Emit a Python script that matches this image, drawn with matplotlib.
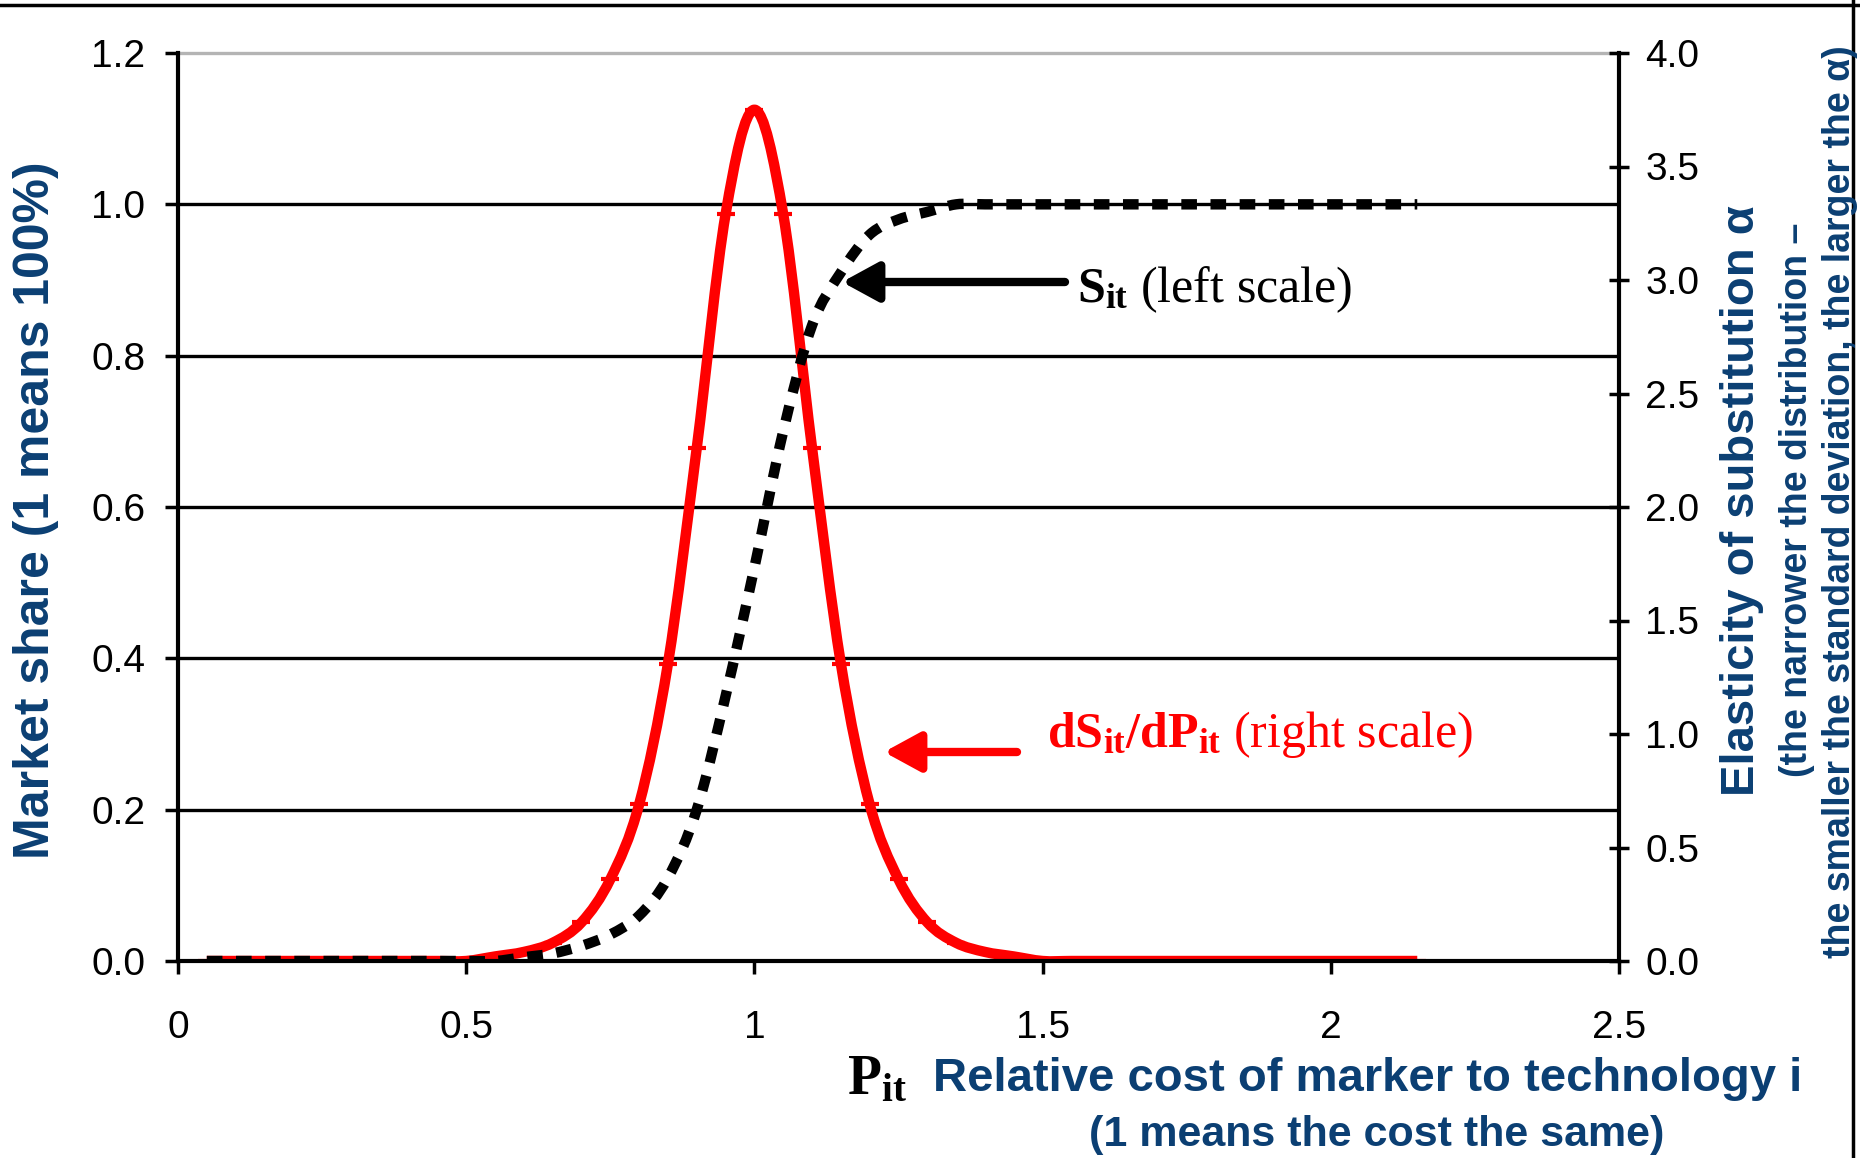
import matplotlib
matplotlib.use("Agg")
import matplotlib.pyplot as plt
from matplotlib.lines import Line2D
from matplotlib.path import Path
from matplotlib.patches import PathPatch
from matplotlib.transforms import blended_transform_factory

plt.rcParams['font.family'] = ['Liberation Sans', 'DejaVu Sans']
plt.rcParams['mathtext.fontset'] = 'custom'
plt.rcParams['mathtext.rm'] = 'Liberation Serif'
plt.rcParams['mathtext.it'] = 'Liberation Serif:italic'
plt.rcParams['mathtext.bf'] = 'Liberation Serif:bold'

# relative cost P_it
cost = [0.05, 0.10, 0.15, 0.20, 0.25, 0.30, 0.35, 0.40, 0.45, 0.50,
        0.55, 0.60, 0.65, 0.70, 0.75, 0.80, 0.85, 0.90, 0.95, 1.00,
        1.05, 1.10, 1.15, 1.20, 1.25, 1.30, 1.35, 1.40, 1.45, 1.50,
        1.55, 1.60, 1.65, 1.70, 1.75, 1.80, 1.85, 1.90, 1.95, 2.00,
        2.05, 2.10, 2.15]

# market share S_it (left scale)
share = [0.0, 0.0, 0.0, 0.0, 0.0, 0.0, 0.0, 0.0, 0.0, 0.0,
         0.0, 0.005, 0.01, 0.02, 0.035, 0.06, 0.11, 0.20, 0.35, 0.52,
         0.70, 0.84, 0.91, 0.96, 0.98, 0.99, 1.0, 1.0, 1.0, 1.0,
         1.0, 1.0, 1.0, 1.0, 1.0, 1.0, 1.0, 1.0, 1.0, 1.0,
         1.0, 1.0, 1.0]

# dS_it/dP_it (right scale)
deriv = [0.0, 0.0, 0.0, 0.0, 0.0, 0.0, 0.0, 0.0, 0.0, 0.0,
         0.02, 0.04, 0.08, 0.17, 0.36, 0.69, 1.31, 2.26, 3.29, 3.75,
         3.29, 2.26, 1.31, 0.69, 0.36, 0.17, 0.08, 0.04, 0.02, 0.0,
         0.0, 0.0, 0.0, 0.0, 0.0, 0.0, 0.0, 0.0, 0.0, 0.0,
         0.0, 0.0, 0.0]

x_ticks = [0, 0.5, 1, 1.5, 2, 2.5]
x_labels = ['0', '0.5', '1', '1.5', '2', '2.5']
left_ticks = [0.0, 0.2, 0.4, 0.6, 0.8, 1.0, 1.2]
right_ticks = [0.0, 0.5, 1.0, 1.5, 2.0, 2.5, 3.0, 3.5, 4.0]
grid_levels = [0.2, 0.4, 0.6, 0.8, 1.0]

blue = '#0B3F73'
W, H = 1860, 1158


def smooth_path(xs, ys):
    """Excel-like smoothed line: Catmull-Rom segments as cubic Bezier."""
    pts = list(zip(xs, ys))
    verts = [pts[0]]
    codes = [Path.MOVETO]
    n = len(pts)
    for i in range(n - 1):
        p0 = pts[i - 1] if i > 0 else pts[i]
        p1 = pts[i]
        p2 = pts[i + 1]
        p3 = pts[i + 2] if i + 2 < n else pts[i + 1]
        c1 = (p1[0] + (p2[0] - p0[0]) / 6, p1[1] + (p2[1] - p0[1]) / 6)
        c2 = (p2[0] - (p3[0] - p1[0]) / 6, p2[1] - (p3[1] - p1[1]) / 6)
        verts += [c1, c2, p2]
        codes += [Path.CURVE4] * 3
    return Path(verts, codes)


fig = plt.figure(figsize=(18.6, 11.58), dpi=100)
fig.patch.set_facecolor('white')
ax = fig.add_axes([178 / W, 1 - 961 / H, 1441 / W, 908 / H])
ax2 = ax.twinx()
ax.set_zorder(ax2.get_zorder() + 1)
ax.patch.set_visible(False)

ax.set_xlim(0, 2.5)
ax.set_ylim(0, 1.2)
ax2.set_ylim(0, 4.0)

# grid lines drawn underneath the red curve, on the left scale
trans = blended_transform_factory(ax2.transAxes, ax.transData)
for g in grid_levels:
    ax2.plot([0, 1], [g, g], transform=trans, color='black', lw=2.4, zorder=0)
ax2.plot([0, 1], [1.2, 1.2], transform=trans, color='#b4b4b4', lw=2.4, zorder=0, clip_on=False)

ax2.add_patch(PathPatch(smooth_path(cost, deriv), fill=False, edgecolor='red',
                        lw=7.5, joinstyle='round', capstyle='butt', zorder=3))
ax2.plot(cost, deriv, ls='none', color='red', marker='_', markersize=13,
         markeredgewidth=3, zorder=3)
ax.add_patch(PathPatch(smooth_path(cost, share), fill=False, edgecolor='black',
                       lw=7.5, linestyle=(0, (1.5, 1.3)), capstyle='butt', zorder=3))

for s in ['top', 'right']:
    ax.spines[s].set_visible(False)
for s in ['top', 'left', 'bottom']:
    ax2.spines[s].set_visible(False)
ax.spines['left'].set_linewidth(3)
ax.spines['bottom'].set_linewidth(3)
ax2.spines['right'].set_linewidth(3)

ax.set_xticks(x_ticks)
ax.set_xticklabels(x_labels)
ax.set_yticks(left_ticks)
ax.set_yticklabels(['%.1f' % v for v in left_ticks])
ax2.set_yticks(right_ticks)
ax2.set_yticklabels(['%.1f' % v for v in right_ticks])

ax.tick_params(axis='x', direction='out', length=9.5, width=2.5, pad=26, labelsize=28)
ax.tick_params(axis='y', direction='out', length=9.5, width=2.5, pad=14, labelsize=28)
ax2.tick_params(axis='y', direction='inout', length=14, width=2.5, pad=12, labelsize=28)

# axis titles
fig.text(36 / W, 1 - 510 / H, 'Market share (1 means 100%)', rotation=90,
         ha='center', va='center', color=blue, fontsize=36, fontweight='bold')
fig.text(1742 / W, 1 - 501 / H, 'Elasticity of substitution α', rotation=90,
         ha='center', va='center', color=blue, fontsize=34, fontweight='bold')
fig.text(1797 / W, 1 - 500 / H, '(the narrower the distribution –', rotation=90,
         ha='center', va='center', color=blue, fontsize=27, fontweight='bold')
fig.text(1840 / W, 1 - 502 / H, 'the smaller the standard deviation, the larger the α)',
         rotation=90, ha='center', va='center', color=blue, fontsize=27, fontweight='bold')

fig.text(877 / W, 1 - 1080 / H, r'$\mathbf{P_{it}}$', ha='center', va='center',
         color='black', fontsize=40)
fig.text(933 / W, 1 - 1079 / H, 'Relative cost of marker to technology i',
         ha='left', va='center', color=blue, fontsize=34, fontweight='bold')
fig.text(1377 / W, 1 - 1135 / H, '(1 means the cost the same)',
         ha='center', va='center', color=blue, fontsize=31, fontweight='bold')

# curve annotations
ax.annotate('', xy=(842 / W, 1 - 282 / H), xytext=(1065 / W, 1 - 282 / H),
            xycoords='figure fraction', textcoords='figure fraction',
            arrowprops=dict(arrowstyle='-|>,head_length=1.1,head_width=0.6',
                            mutation_scale=20, lw=6, color='black',
                            shrinkA=0, shrinkB=0))
fig.text(1077 / W, 1 - 290 / H, r'$\mathbf{S_{it}}$ (left scale)', ha='left', va='center',
         color='black', fontsize=36, family='Liberation Serif')

ax.annotate('', xy=(884 / W, 1 - 752 / H), xytext=(1017 / W, 1 - 752 / H),
            xycoords='figure fraction', textcoords='figure fraction',
            arrowprops=dict(arrowstyle='-|>,head_length=1.1,head_width=0.6',
                            mutation_scale=20, lw=6, color='red',
                            shrinkA=0, shrinkB=0))
fig.text(1047 / W, 1 - 735 / H, r'$\mathbf{dS_{it}/dP_{it}}$ (right scale)', ha='left',
         va='center', color='red', fontsize=36, family='Liberation Serif')

# outer frame lines (top and right)
fig.add_artist(Line2D([0, 1], [1 - 5 / H, 1 - 5 / H], transform=fig.transFigure,
                      color='black', lw=2.5))
fig.add_artist(Line2D([1 - 7 / W, 1 - 7 / W], [0, 1], transform=fig.transFigure,
                      color='black', lw=2.5))

fig.savefig('out.png', dpi=100, facecolor='white')
